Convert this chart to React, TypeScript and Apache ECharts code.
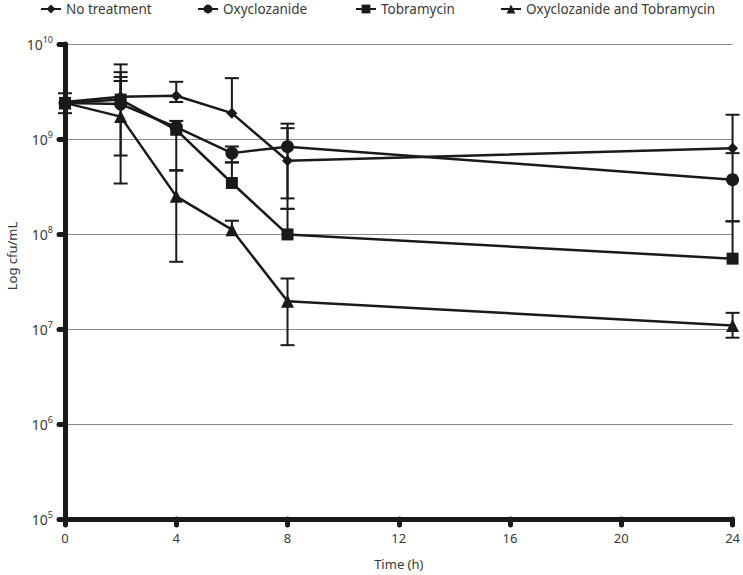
import React, { useEffect, useRef } from "react";
import * as echarts from "echarts";

const times = [0, 2, 4, 6, 8, 24];
const seriesNames = ["No treatment", "Oxyclozanide", "Tobramycin", "Oxyclozanide and Tobramycin"];

const noTreatment = [2.45e9, 2.79e9, 2.85e9, 1.87e9, 5.9e8, 8.0e8];
const oxyclozanide = [2.4e9, 2.33e9, 1.33e9, 7.1e8, 8.3e8, 3.73e8];
const tobramycin = [2.4e9, 2.6e9, 1.25e9, 3.44e8, 9.9e7, 5.5e7];
const combination = [2.4e9, 1.72e9, 2.49e8, 1.11e8, 1.96e7, 1.09e7];

const noTreatmentLow = [1.87e9, null, 2.45e9, null, 1.84e8, null];
const noTreatmentHigh = [3.03e9, 6.1e9, 4.0e9, 4.37e9, 1.45e9, 1.8e9];
const oxyclozanideLow = [null, 6.7e8, null, 5.67e8, 2.37e8, 1.36e8];
const oxyclozanideHigh = [null, 4.08e9, 1.55e9, 8.34e8, 1.3e9, 7.1e8];
const tobramycinLow = [null, null, 4.7e8, null, null, null];
const tobramycinHigh = [null, 5.05e9, null, 5.67e8, 1.84e8, 1.36e8];
const combinationLow = [null, 3.4e8, 5.1e7, null, 6.76e6, 8.1e6];
const combinationHigh = [null, 4.5e9, 4.64e8, 1.38e8, 3.4e7, 1.48e7];

const xTicks = [0, 4, 8, 12, 16, 20, 24];

const INK = "#1a1a1a";
const TEXT = "#3a3a3a";
const FONT = "Noto Sans";

export default function App() {
  const ref = useRef<HTMLDivElement>(null);
  useEffect(() => {
    if (!ref.current) return;
    const chart = echarts.init(ref.current, null, { renderer: "svg" });

    const means = [noTreatment, oxyclozanide, tobramycin, combination];
    const lows = [noTreatmentLow, oxyclozanideLow, tobramycinLow, combinationLow];
    const highs = [noTreatmentHigh, oxyclozanideHigh, tobramycinHigh, combinationHigh];
    const symbols = ["diamond", "circle", "rect", "triangle"];
    const sizes = [11, 13, 12, 13];

    const errData: { t: number; mean: number; low: number | null; high: number | null }[] = [];
    means.forEach((arr, s) => {
      arr.forEach((m, i) => {
        if (lows[s][i] != null || highs[s][i] != null) {
          errData.push({ t: times[i], mean: m, low: lows[s][i], high: highs[s][i] });
        }
      });
    });

    const lineSeries = seriesNames.map((name, s) => ({
      name,
      type: "line",
      data: times.map((t, i) => [t, means[s][i]]),
      symbol: symbols[s],
      symbolSize: sizes[s],
      showAllSymbol: true,
      lineStyle: { color: INK, width: 2.5 },
      itemStyle: { color: INK, borderWidth: 0 },
      z: 3,
    }));

    const errSeries = {
      type: "custom",
      name: "err",
      clip: false,
      z: 2,
      data: errData.map((d) => [d.t, d.mean]),
      encode: { x: 0, y: 1 },
      renderItem: (params: any, api: any) => {
        const d = errData[params.dataIndex];
        const top = d.high != null ? d.high : d.mean;
        const bot = d.low != null ? d.low : d.mean;
        const pT = api.coord([d.t, top]);
        const pB = api.coord([d.t, bot]);
        const style = { stroke: INK, lineWidth: 2 };
        const cw = 7;
        const children: any[] = [
          { type: "line", shape: { x1: pT[0], y1: pT[1], x2: pB[0], y2: pB[1] }, style },
        ];
        if (d.high != null)
          children.push({ type: "line", shape: { x1: pT[0] - cw, y1: pT[1], x2: pT[0] + cw, y2: pT[1] }, style });
        if (d.low != null)
          children.push({ type: "line", shape: { x1: pB[0] - cw, y1: pB[1], x2: pB[0] + cw, y2: pB[1] }, style });
        return { type: "group", children };
      },
    };

    const legendLefts = [35, 192, 350, 495];

    chart.setOption({
      animation: false,
      textStyle: { fontFamily: FONT },
      legend: seriesNames.map((n, i) => ({
        data: [n],
        left: legendLefts[i],
        top: -3,
        itemWidth: 20,
        itemHeight: 11,
        itemGap: 10,
        textStyle: { color: TEXT, fontSize: 13.5, fontFamily: FONT },
      })),
      grid: { left: 65, right: 7, top: 44, bottom: 55, containLabel: false },
      xAxis: {
        type: "value",
        min: 0,
        max: 24,
        interval: 4,
        name: "Time (h)",
        nameLocation: "middle",
        nameGap: 38,
        nameTextStyle: { color: TEXT, fontSize: 13, fontFamily: FONT },
        axisLine: { show: true, lineStyle: { color: INK, width: 5 } },
        axisTick: { show: true, length: 6, lineStyle: { color: INK, width: 5, cap: "round" } },
        axisLabel: {
          color: TEXT,
          fontSize: 13,
          margin: 12,
          fontFamily: FONT,
          formatter: (v: number) => (xTicks.indexOf(v) >= 0 ? String(v) : ""),
        },
        splitLine: { show: false },
      },
      yAxis: {
        type: "log",
        logBase: 10,
        min: 1e5,
        max: 1e10,
        splitNumber: 5,
        axisLine: { show: true, lineStyle: { color: INK, width: 5 } },
        axisTick: { show: true, length: 6, lineStyle: { color: INK, width: 5, cap: "round" } },
        axisLabel: {
          margin: 12,
          formatter: (v: number) => `{b|10}{s|${Math.round(Math.log10(v))}}`,
          rich: {
            b: { color: TEXT, fontSize: 14, fontFamily: FONT },
            s: { color: TEXT, fontSize: 9, fontFamily: FONT, padding: [0, 0, 9, 0] },
          },
        },
        splitLine: { show: true, lineStyle: { color: "#8a8a8a", width: 1 } },
      },
      graphic: [
        {
          type: "text",
          x: 12,
          y: 256,
          rotation: Math.PI / 2,
          style: {
            text: "Log cfu/mL",
            fill: TEXT,
            fontSize: 13,
            fontFamily: FONT,
            align: "center",
            verticalAlign: "middle",
          },
        },
      ],
      series: [errSeries, ...lineSeries],
    });

    return () => chart.dispose();
  }, []);

  return (
    <div
      ref={ref}
      style={{ position: "absolute", left: 0, top: 0, width: 743, height: 575 }}
    />
  );
}
